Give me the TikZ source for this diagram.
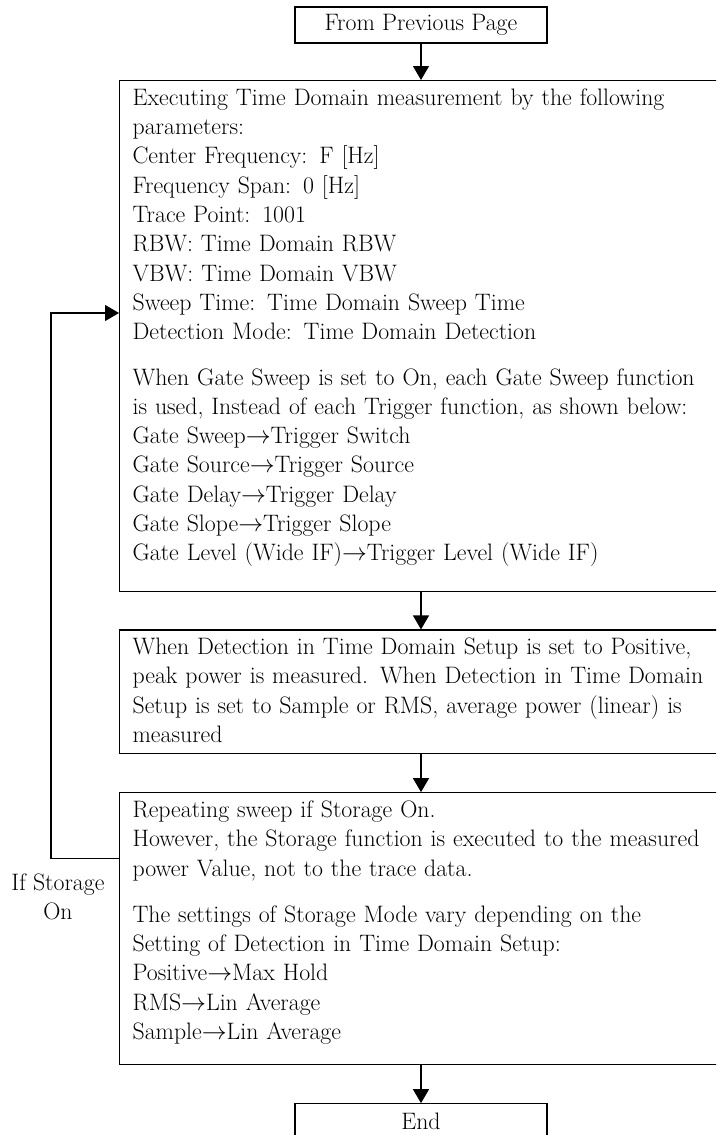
\documentclass[tikz,border=0pt]{standalone}
\usepackage{fontspec}
\usetikzlibrary{arrows.meta,positioning}

\begin{document}
\begin{tikzpicture}[
  x=1pt, y=-1pt,
  every node/.style={font=\fontsize{23.8}{29.3}\selectfont},
  term/.style={draw,line width=1.2pt,minimum width=252pt,minimum height=36pt,
    inner sep=0pt},
  stepbox/.style={draw,line width=1.2pt,text width=680pt,align=left,
    inner xsep=13pt,inner ysep=8pt},
  arrow/.style={-{Triangle[length=14pt,width=16pt]},line width=1.2pt}
]
  \useasboundingbox (0,0) rectangle (716,1135);
  \clip (0,0) rectangle (716,1135);

  \node[term] (prev) at (421,25) {From Previous Page};
  \node[stepbox,anchor=north west] (params) at (119,80)
    {Executing Time Domain measurement by the following\\
     parameters:\\
     Center Frequency: F [Hz]\\
     Frequency Span: 0 [Hz]\\
     Trace Point: 1001\\
     RBW: Time Domain RBW\\
     VBW: Time Domain VBW\\
     Sweep Time: Time Domain Sweep Time\\
     Detection Mode: Time Domain Detection\\[16pt]
     When Gate Sweep is set to On, each Gate Sweep function\\
     is used, Instead of each Trigger function, as shown below:\\
     Gate Sweep$\rightarrow$Trigger Switch\\
     Gate Source$\rightarrow$Trigger Source\\
     Gate Delay$\rightarrow$Trigger Delay\\
     Gate Slope$\rightarrow$Trigger Slope\\
     Gate Level (Wide IF)$\rightarrow$Trigger Level (Wide IF)\rule[-23pt]{0pt}{23pt}};
  \node[stepbox,below=37pt of params.south west,anchor=north west] (detect)
    {When Detection in Time Domain Setup is set to Positive,\\
     peak power is measured. When Detection in Time Domain\\
     Setup is set to Sample or RMS, average power (linear) is\\
     measured\rule[-3pt]{0pt}{3pt}};
  \node[stepbox,below=38pt of detect.south west,anchor=north west] (repeat)
    {Repeating sweep if Storage On.\\
     However, the Storage function is executed to the measured\\
     power Value, not to the trace data.\\[17pt]
     The settings of Storage Mode vary depending on the\\
     Setting of Detection in Time Domain Setup:\\
     Positive$\rightarrow$Max Hold\\
     RMS$\rightarrow$Lin Average\\
     Sample$\rightarrow$Lin Average\rule[-17pt]{0pt}{17pt}};
  \node[term,anchor=north,yshift=-38pt] (finish) at (prev.south |- repeat.south) {End};
  \node[align=center] (ifon) at (58,897) {If Storage\\On};

  \draw[arrow] (prev) -- (prev.south |- params.north);
  \draw[arrow] (prev.south |- params.south) -- (prev.south |- detect.north);
  \draw[arrow] (prev.south |- detect.south) -- (prev.south |- repeat.north);
  \draw[arrow] (prev.south |- repeat.south) -- (finish);
  % storage loop back to the measurement
  \draw[arrow] ([yshift=-66pt]repeat.north west) -- ++(-68,0)
    |- ([yshift=-233pt]params.north west);
\end{tikzpicture}
\end{document}
